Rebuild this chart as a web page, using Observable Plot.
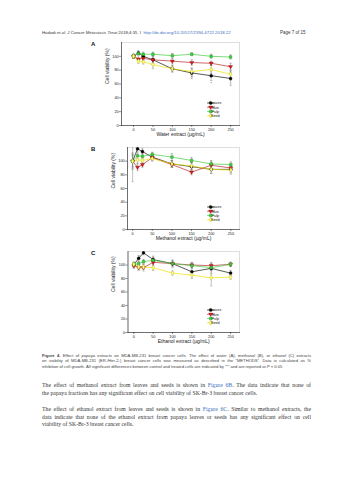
<!DOCTYPE html>
<html><head><meta charset="utf-8">
<script src="https://cdn.jsdelivr.net/npm/d3@7"></script>
<script src="https://cdn.jsdelivr.net/npm/@observablehq/plot@0.6"></script>
<style>
html,body{margin:0;padding:0;background:#fff;}
#page{position:relative;width:353px;height:480px;overflow:hidden;font-family:"Liberation Sans",Arial,sans-serif;color:#333;}
.abs{position:absolute;white-space:nowrap;}
.jl{position:absolute;text-align:justify;text-align-last:justify;white-space:normal;}
.letter{position:absolute;font-weight:bold;font-size:6px;font-family:"Liberation Sans",Arial,sans-serif;color:#111;}
.cap{font-size:4.15px;color:#444;}
.body{font-family:"Liberation Serif","Times New Roman",serif;font-size:5.75px;color:#333;}
.link{color:#3a6fc0;}
</style></head><body><div id="page"></div>
<script>
// ---------------- data ----------------
const doses = [0, 12.5, 25, 50, 100, 150, 200, 250];
const doseTicks = [0, 50, 100, 150, 200, 250];
const viabilityTicks = [0, 20, 40, 60, 80, 100];
const seriesNames = ["Leaves", "Skin", "Pulp", "Seed"];

// A: water extract
const waterLeaves = [100, 105, 100, 95, 82, 76, 72, 68];
const waterSkin   = [100, 96, 97, 95, 93, 91, 90, 85];
const waterPulp   = [100, 104, 103, 103, 101, 103, 100, 99];
const waterSeed   = [100, 93, 92, 88, 82, 78, 81, 74];
const waterLeavesErr = [3, 3, 3, 6, 4, 6, 7, 8];
const waterSkinErr   = [3, 3, 3, 4, 4, 4, 3, 5];
const waterPulpErr   = [3, 2, 3, 3, 3, 2, 3, 3];
const waterSeedErr   = [3, 3, 3, 6, 5, 5, 6, 6];
const waterSigSeries = ["Leaves", "Seed", "Leaves", "Skin", "Seed", "Leaves"];
const waterSigDoses  = [150, 150, 200, 250, 250, 250];

// B: methanol extract
const methLeaves = [100, 118, 114, 106, 96, 92, 88, 88];
const methSkin   = [100, 91, 95, 105, 95, 84, 94, 90];
const methPulp   = [100, 108, 107, 110, 106, 101, 96, 95];
const methSeed   = [100, 102, 101, 104, 96, 93, 88, 87];
const methLeavesErr = [30, 4, 4, 4, 5, 6, 6, 5];
const methSkinErr   = [10, 5, 4, 4, 4, 4, 5, 4];
const methPulpErr   = [8, 4, 4, 3, 5, 4, 5, 4];
const methSeedErr   = [12, 5, 4, 4, 5, 5, 6, 6];

// C: ethanol extract
const ethLeaves = [100, 110, 118, 108, 102, 90, 95, 88];
const ethSkin   = [99, 96, 96, 104, 102, 100, 99, 101];
const ethPulp   = [101, 102, 105, 107, 102, 99, 96, 101];
const ethSeed   = [101, 97, 97, 96, 88, 85, 81, 82];
const ethLeavesErr = [4, 4, 3, 5, 5, 6, 8, 4];
const ethSkinErr   = [4, 4, 5, 4, 5, 4, 4, 3];
const ethPulpErr   = [3, 3, 3, 4, 3, 4, 4, 3];
const ethSeedErr   = [3, 3, 3, 4, 3, 5, 12, 3];

const yLabel = "Cell viability (%)";

// ---------------- styles ----------------
const triDown = {
  draw(ctx, size) {
    const y = -Math.sqrt(size / (Math.sqrt(3) * 3));
    const s3 = Math.sqrt(3);
    ctx.moveTo(0, -y * 2);
    ctx.lineTo(s3 * y, y);
    ctx.lineTo(-s3 * y, y);
    ctx.closePath();
  }
};
const style = {
  Leaves: {line: "#111", fill: "#000", stroke: "#000", symbol: "circle", d3sym: d3.symbolCircle},
  Skin:   {line: "#b82828", fill: "#d42020", stroke: "#8a0000", symbol: triDown, d3sym: triDown},
  Pulp:   {line: "#44cc44", fill: "#3fcf3f", stroke: "#1f8a1f", symbol: "square", d3sym: d3.symbolSquare},
  Seed:   {line: "#ece400", fill: "#ffff88", stroke: "#b8a800", symbol: "diamond", d3sym: d3.symbolDiamond}
};
const R = 1.5;

const panels = [
  {letter: "A", xLabel: "Water extract (µg/mL)", vals: [waterLeaves, waterSkin, waterPulp, waterSeed],
   errs: [waterLeavesErr, waterSkinErr, waterPulpErr, waterSeedErr], sigS: waterSigSeries, sigD: waterSigDoses,
   top: 42, bottom: 125, left: 121, xdom: [-31, 273]},
  {letter: "B", xLabel: "Methanol extract (µg/mL)", vals: [methLeaves, methSkin, methPulp, methSeed],
   errs: [methLeavesErr, methSkinErr, methPulpErr, methSeedErr], sigS: [], sigD: [],
   top: 147, bottom: 229, left: 127, xdom: [-13, 272]},
  {letter: "C", xLabel: "Ethanol extract (µg/mL)", vals: [ethLeaves, ethSkin, ethPulp, ethSeed],
   errs: [ethLeavesErr, ethSkinErr, ethPulpErr, ethSeedErr], sigS: [], sigD: [],
   top: 251, bottom: 332, left: 127.5, xdom: [-15, 273]}
];

const page = document.getElementById("page");
const RIGHT = 239, MT = 5, MB = 15;

function addDiv(cls, html, css) {
  const d = document.createElement("div");
  d.className = cls; d.innerHTML = html;
  Object.assign(d.style, css);
  page.appendChild(d);
  return d;
}

for (const p of panels) {
  const rows = [];
  seriesNames.forEach((s, k) => doses.forEach((x, i) => rows.push({series: s, dose: x, v: p.vals[k][i], e: p.errs[k][i]})));
  const sig = p.sigS.map((s, i) => rows.find(r => r.series === s && r.dose === p.sigD[i]));
  const marks = [
    Plot.frame({stroke: "#c8c8c8", strokeWidth: 0.6}),
    Plot.frame({anchor: "left", stroke: "#222", strokeWidth: 0.6}),
    Plot.frame({anchor: "bottom", stroke: "#222", strokeWidth: 0.6}),
    Plot.ruleX(rows, {x: "dose", y1: d => Math.max(0, d.v - d.e), y2: d => Math.min(120, d.v + d.e), stroke: "#777", strokeWidth: 0.45}),
    Plot.link(rows.filter(d => d.v + d.e <= 120), {x1: d => d.dose - 3, x2: d => d.dose + 3, y1: d => d.v + d.e, y2: d => d.v + d.e, stroke: "#777", strokeWidth: 0.45}),
    Plot.link(rows, {x1: d => d.dose - 3, x2: d => d.dose + 3, y1: d => d.v - d.e, y2: d => d.v - d.e, stroke: "#777", strokeWidth: 0.45})
  ];
  for (const s of seriesNames) {
    marks.push(Plot.line(rows.filter(r => r.series === s), {x: "dose", y: "v", stroke: style[s].line, strokeWidth: 0.7}));
  }
  for (const s of seriesNames) {
    const st = style[s];
    marks.push(Plot.dot(rows.filter(r => r.series === s), {x: "dose", y: "v", symbol: st.symbol, r: R, fill: st.fill, stroke: st.stroke, strokeWidth: 0.35}));
  }
  marks.push(
    Plot.text(sig, {x: "dose", y: d => d.v - d.e, text: () => "*", dy: 2.8, fontSize: 4, fill: "#444"}),
    Plot.axisX({ticks: doseTicks, tickSize: 2, tickPadding: 0.4, fontSize: 3.8, label: null, stroke: "#222", strokeWidth: 0.5, fill: "#222"}),
    Plot.axisY({ticks: viabilityTicks, tickSize: 2, tickPadding: 0.8, fontSize: 3.8, label: null, stroke: "#222", strokeWidth: 0.5, fill: "#222"}),
    Plot.text([p.xLabel], {frameAnchor: "bottom", dy: 10.6, fontSize: 5, fill: "#222"}),
    Plot.text([yLabel], {frameAnchor: "left", rotate: -90, dx: -14.5, fontSize: 5, fill: "#222"})
  );
  const chart = Plot.plot({
    width: 353, height: MT + (p.bottom - p.top) + MB,
    marginLeft: p.left, marginRight: 353 - RIGHT, marginTop: MT, marginBottom: MB,
    style: {fontFamily: "'Liberation Sans', Arial, sans-serif", overflow: "visible", background: "transparent"},
    x: {domain: p.xdom},
    y: {domain: [0, 120]},
    marks
  });
  // legend
  const xs = chart.scale("x"), ys = chart.scale("y");
  const lx = xs.range[1] - 28.3, ly = ys.range[0] - 22;
  const g = d3.select(chart).append("g").attr("font-size", 3.8).attr("font-family", "'Liberation Sans', Arial, sans-serif");
  seriesNames.forEach((s, i) => {
    const row = g.append("g").attr("transform", `translate(${lx},${ly + i * 4.25})`);
    row.append("line").attr("x1", -3.6).attr("x2", 3.6).attr("stroke", style[s].line).attr("stroke-width", 0.7);
    row.append("path").attr("d", d3.symbol(style[s].d3sym, Math.PI * R * R)()).attr("fill", style[s].fill).attr("stroke", style[s].stroke).attr("stroke-width", 0.35);
    row.append("text").attr("x", 4.6).attr("dy", "0.35em").attr("fill", "#222").text(s);
  });
  const wrap = document.createElement("div");
  wrap.style.cssText = `position:absolute;left:0;top:${p.top - MT}px;`;
  wrap.appendChild(chart);
  page.appendChild(wrap);
  addDiv("letter", p.letter, {left: "91px", top: (p.top - 1) + "px"});
}

// header
addDiv("abs", 'Hadadi <i>et al. J Cancer Metastasis Treat</i> 2018;4:35&nbsp; I&nbsp; <span class="link">http://dx.doi.org/10.20517/2394-4722.2018.22</span>',
  {left: "42px", top: "30px", fontSize: "4.3px", color: "#333"});
addDiv("abs", "Page 7 of 15", {left: "280px", top: "30px", fontSize: "4.5px", color: "#333"});

// caption
const capLines = [
  '<b>Figure 4.</b> Effect of papaya extracts on MDA-MB-231 breast cancer cells. The effect of water (A), methanol (B), or ethanol (C) extracts',
  'on viability of MDA-MB-231 (ER-/Her-2-) breast cancer cells was measured as described in the “METHODS”. Data is calculated as %',
  'inhibition of cell growth. All significant differences between control and treated cells are indicated by “*” and are reported at <i>P</i> &lt; 0.05'
];
capLines.forEach((t, i) => {
  const d = addDiv(i < 2 ? "jl cap" : "abs cap", t, {left: "42px", top: (353.3 + i * 5.1) + "px", lineHeight: "5px"});
  if (i < 2) d.style.width = "269px";
});

// body text
const bodyLines = [
  ['The effect of methanol extract from leaves and seeds is shown in <span class="link">Figure 6B</span>. The data indicate that none of', 382.2, true],
  ['the papaya fractions has any significant effect on cell viability of SK-Br-3 breast cancer cells.', 389.9, false],
  ['The effect of ethanol extract from leaves and seeds is shown in <span class="link">Figure 6C</span>. Similar to methanol extracts, the', 405.9, true],
  ['data indicate that none of the ethanol extract from papaya leaves or seeds has any significant effect on cell', 413.6, true],
  ['viability of SK-Br-3 breast cancer cells.', 421.4, false]
];
bodyLines.forEach(([t, y, j]) => {
  const d = addDiv(j ? "jl body" : "abs body", t, {left: "42px", top: y + "px", lineHeight: "7px"});
  if (j) d.style.width = "269px";
});
</script></body></html>
